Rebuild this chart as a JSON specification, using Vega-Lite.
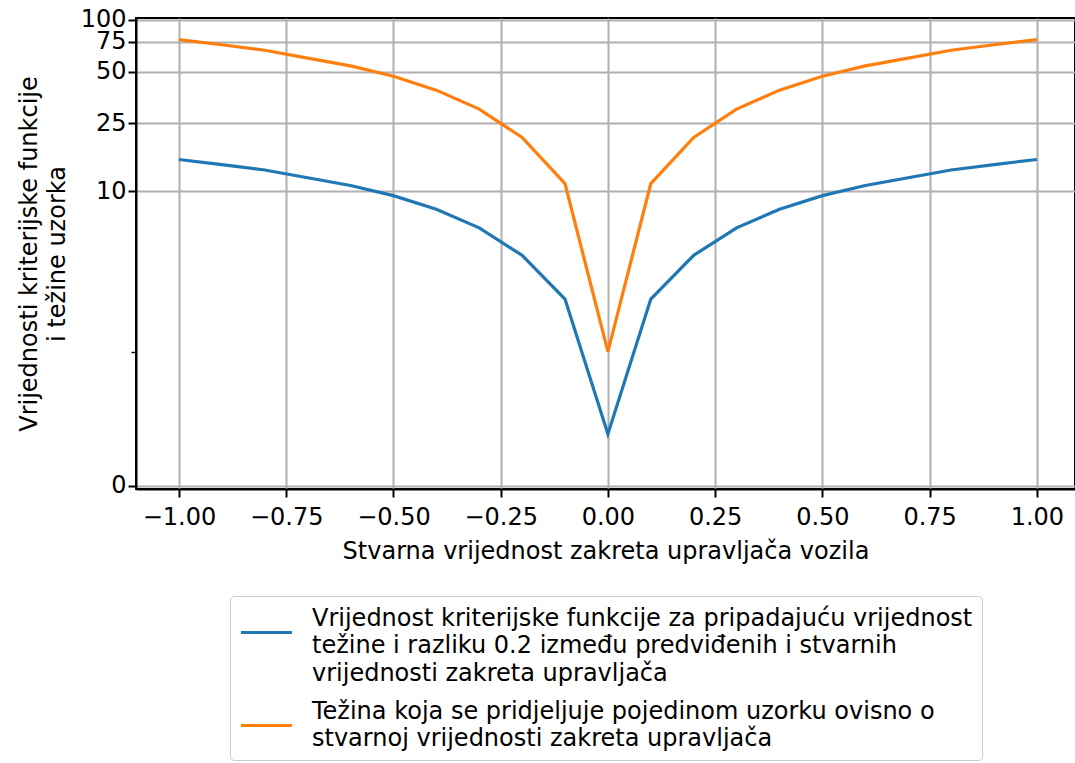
{
  "$schema": "https://vega.github.io/schema/vega-lite/v6.json",
  "autosize": "none",
  "padding": {"left": 136, "top": 18, "right": 0, "bottom": 274},
  "width": 939,
  "height": 471,
  "background": "white",
  "config": {
    "font": "DejaVu Sans",
    "view": {"stroke": "black", "strokeWidth": 2},
    "style": {"guide-label": {"lineHeight": 27.5}},
    "axis": {
      "labelFont": "DejaVu Sans",
      "titleFont": "DejaVu Sans",
      "labelFontSize": 24,
      "titleFontSize": 24,
      "titleFontWeight": "normal",
      "labelColor": "black",
      "titleColor": "black",
      "domainColor": "black",
      "domainWidth": 2,
      "tickColor": "black",
      "tickWidth": 2,
      "tickSize": 8,
      "gridColor": "#b0b0b0",
      "gridWidth": 2
    }
  },
  "data": {
    "values": [
      {"x": -1.0, "v": 15.38, "s": "a"},
      {"x": -0.9, "v": 14.36, "s": "a"},
      {"x": -0.8, "v": 13.34, "s": "a"},
      {"x": -0.7, "v": 12.02, "s": "a"},
      {"x": -0.6, "v": 10.82, "s": "a"},
      {"x": -0.5, "v": 9.42, "s": "a"},
      {"x": -0.4, "v": 7.82, "s": "a"},
      {"x": -0.3, "v": 6.06, "s": "a"},
      {"x": -0.2, "v": 4.14, "s": "a"},
      {"x": -0.1, "v": 2.22, "s": "a"},
      {"x": 0.0, "v": 0.2, "s": "a"},
      {"x": 0.1, "v": 2.22, "s": "a"},
      {"x": 0.2, "v": 4.14, "s": "a"},
      {"x": 0.3, "v": 6.06, "s": "a"},
      {"x": 0.4, "v": 7.82, "s": "a"},
      {"x": 0.5, "v": 9.42, "s": "a"},
      {"x": 0.6, "v": 10.82, "s": "a"},
      {"x": 0.7, "v": 12.02, "s": "a"},
      {"x": 0.8, "v": 13.34, "s": "a"},
      {"x": 0.9, "v": 14.36, "s": "a"},
      {"x": 1.0, "v": 15.38, "s": "a"},
      {"x": -1.0, "v": 76.9, "s": "b"},
      {"x": -0.9, "v": 71.8, "s": "b"},
      {"x": -0.8, "v": 66.7, "s": "b"},
      {"x": -0.7, "v": 60.1, "s": "b"},
      {"x": -0.6, "v": 54.1, "s": "b"},
      {"x": -0.5, "v": 47.1, "s": "b"},
      {"x": -0.4, "v": 39.1, "s": "b"},
      {"x": -0.3, "v": 30.3, "s": "b"},
      {"x": -0.2, "v": 20.7, "s": "b"},
      {"x": -0.1, "v": 11.1, "s": "b"},
      {"x": 0.0, "v": 1.0, "s": "b"},
      {"x": 0.1, "v": 11.1, "s": "b"},
      {"x": 0.2, "v": 20.7, "s": "b"},
      {"x": 0.3, "v": 30.3, "s": "b"},
      {"x": 0.4, "v": 39.1, "s": "b"},
      {"x": 0.5, "v": 47.1, "s": "b"},
      {"x": 0.6, "v": 54.1, "s": "b"},
      {"x": 0.7, "v": 60.1, "s": "b"},
      {"x": 0.8, "v": 66.7, "s": "b"},
      {"x": 0.9, "v": 71.8, "s": "b"},
      {"x": 1.0, "v": 76.9, "s": "b"}
    ]
  },
  "mark": {"type": "line", "strokeWidth": 3.2, "clip": true},
  "encoding": {
    "x": {
      "field": "x",
      "type": "quantitative",
      "scale": {"domain": [-1.1, 1.0888], "nice": false, "zero": false},
      "axis": {
        "values": [-1, -0.75, -0.5, -0.25, 0, 0.25, 0.5, 0.75, 1],
        "format": ".2f",
        "labelPadding": 8,
        "labelFlush": false,
        "titlePadding": 10,
        "title": "Stvarna vrijednost zakreta upravljača vozila"
      }
    },
    "y": {
      "field": "v",
      "type": "quantitative",
      "scale": {"type": "symlog", "constant": 0.2, "domain": [-0.0082, 102.7], "nice": false, "zero": false},
      "axis": {
        "values": [0, 1, 10, 25, 50, 75, 100],
        "labelExpr": "datum.value == 1 ? '' : datum.label",
        "labelPadding": 2,
        "labelFlush": false,
        "labelOverlap": false,
        "gridOpacity": {"condition": {"test": "datum.value == 1", "value": 0}, "value": 1},
        "tickSize": {"condition": {"test": "datum.value == 1", "value": 5}, "value": 8},
        "tickWidth": {"condition": {"test": "datum.value == 1", "value": 1.4}, "value": 2},
        "titlePadding": 11,
        "titleLineHeight": 28,
        "title": ["Vrijednosti kriterijske funkcije", "i težine uzorka"]
      }
    },
    "color": {
      "field": "s",
      "type": "nominal",
      "scale": {"domain": ["a", "b"], "range": ["#1f77b4", "#ff7f0e"]},
      "legend": {
        "orient": "none",
        "legendX": 94,
        "legendY": 578,
        "title": null,
        "direction": "vertical",
        "labelFont": "DejaVu Sans",
        "labelFontSize": 24,
        "labelColor": "black",
        "labelLimit": 2000,
        "labelOffset": 18,
        "labelBaseline": "line-bottom",
        "symbolType": "stroke",
        "symbolSize": 2600,
        "symbolStrokeWidth": 3.2,
        "rowPadding": 12,
        "padding": 9,
        "strokeColor": "#cccccc",
        "fillColor": "white",
        "cornerRadius": 4,
        "labelExpr": "datum.label == 'a' ? ['Vrijednost kriterijske funkcije za pripadajuću vrijednost', 'težine i razliku 0.2 između predviđenih i stvarnih', 'vrijednosti zakreta upravljača'] : ['Težina koja se pridjeljuje pojedinom uzorku ovisno o', 'stvarnoj vrijednosti zakreta upravljača']"
      }
    }
  }
}
